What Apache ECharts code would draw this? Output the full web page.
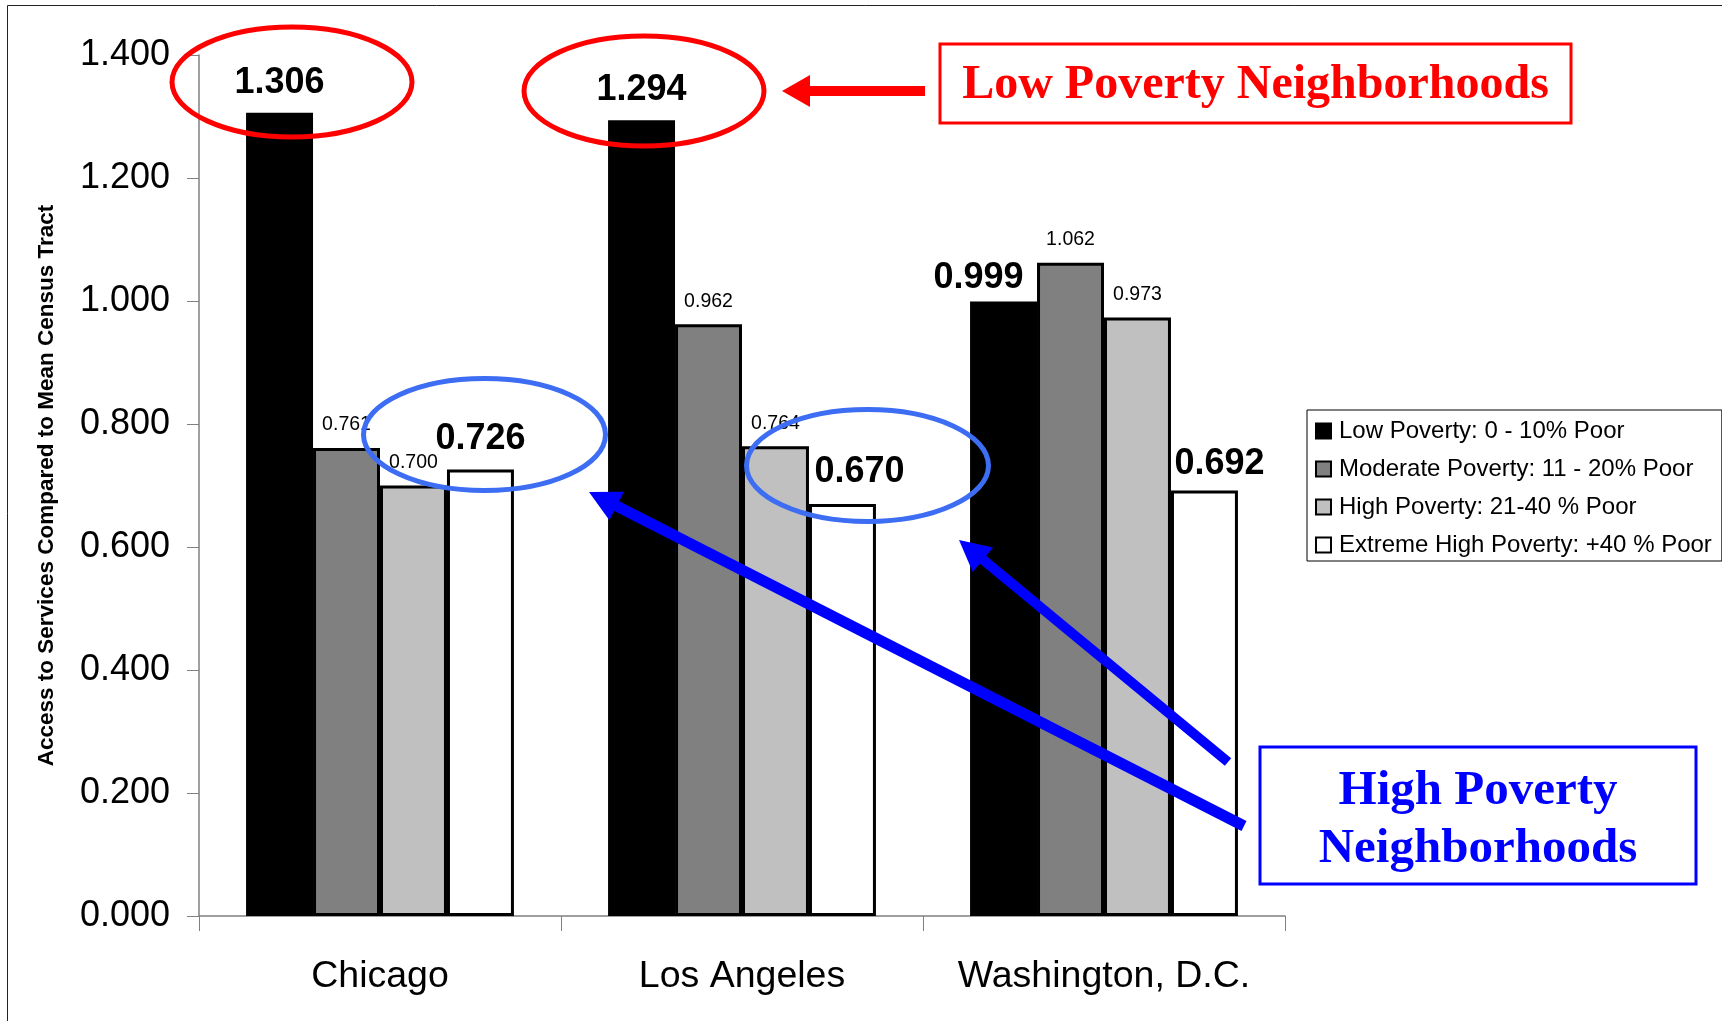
<!DOCTYPE html>
<html>
<head>
<meta charset="utf-8">
<style>
  html, body { margin: 0; padding: 0; background: #fff; }
  #chart { width: 1722px; height: 1021px; }
</style>
<script src="https://cdn.jsdelivr.net/npm/echarts@6/dist/echarts.min.js"></script>
</head>
<body>
<div id="chart"></div>
<script>
// ---- data ----
const categories = ['Chicago', 'Los Angeles', 'Washington, D.C.'];
const seriesNames = [
  'Low Poverty: 0 - 10% Poor',
  'Moderate Poverty: 11 - 20% Poor',
  'High Poverty: 21-40 % Poor',
  'Extreme High Poverty: +40 % Poor'
];
const lowPoverty      = [1.306, 1.294, 0.999];
const moderatePoverty = [0.761, 0.962, 1.062];
const highPoverty     = [0.700, 0.764, 0.973];
const extremePoverty  = [0.726, 0.670, 0.692];
const yTicks = [0, 0.2, 0.4, 0.6, 0.8, 1.0, 1.2, 1.4];
const yAxisTitle = 'Access to Services Compared to Mean Census Tract';
const lowNote = 'Low Poverty Neighborhoods';
const highNote = 'High Poverty\nNeighborhoods';

// ---- styles ----
const fills = ['#000000', '#808080', '#c0c0c0', '#ffffff'];
const bigSeries = [true, false, false, true];
// per-point label nudges [series][category] -> [dx, dy]
const labelNudge = {
  '0,2': [-25, 6],
  '3,1': [17, -2],
  '3,2': [15, 4]
};

const allValues = [lowPoverty, moderatePoverty, highPoverty, extremePoverty];

const series = allValues.map((vals, si) => ({
  name: seriesNames[si],
  type: 'bar',
  barGap: '0%',
  barCategoryGap: '26%',
  itemStyle: { color: fills[si], borderColor: '#000', borderWidth: 3 },
  label: {
    show: true,
    position: 'top',
    distance: bigSeries[si] ? 12 : 13,
    color: '#000',
    fontFamily: 'Liberation Sans, Arial, sans-serif',
    fontSize: bigSeries[si] ? 36 : 19.5,
    fontWeight: bigSeries[si] ? 'bold' : 'normal',
    formatter: p => p.value.toFixed(3)
  },
  data: vals.map((v, ci) => {
    const n = labelNudge[si + ',' + ci];
    return n ? { value: v, label: { offset: n } } : v;
  })
}));

function arrow(x1, y1, x2, y2, w, headLen, headHalf, color) {
  // from (x1,y1) to tip (x2,y2)
  const dx = x2 - x1, dy = y2 - y1;
  const L = Math.sqrt(dx * dx + dy * dy);
  const ux = dx / L, uy = dy / L;
  const bx = x2 - ux * headLen, by = y2 - uy * headLen;
  const px = -uy, py = ux;
  return [
    { type: 'line', z: 100, shape: { x1: x1, y1: y1, x2: bx + ux * 2, y2: by + uy * 2 },
      style: { stroke: color, lineWidth: w, lineCap: 'butt' } },
    { type: 'polygon', z: 100, shape: { points: [[x2, y2], [bx + px * headHalf, by + py * headHalf], [bx - px * headHalf, by - py * headHalf]] },
      style: { fill: color } }
  ];
}

const ellipse = (cx, cy, rx, ry, color) => ({
  type: 'ellipse', z: 100, shape: { cx, cy, rx, ry },
  style: { fill: null, stroke: color, lineWidth: 5 }
});

const graphics = [
  { type: 'rect', z: 90, shape: { x: 7.5, y: 5.5, width: 1730, height: 1030 },
    style: { fill: null, stroke: '#222', lineWidth: 1 } },
  ellipse(292, 82, 120, 55, '#ff0000'),
  ellipse(644, 91, 120, 55, '#ff0000'),
  ellipse(484.5, 434.5, 121, 56, '#3d6df2'),
  ellipse(867.5, 465.5, 121, 56, '#3d6df2'),
  ...arrow(925, 91, 782, 91, 10, 28, 16, '#ff0000'),
  ...arrow(1244, 826, 589, 492, 11, 31, 16, '#0000ff'),
  ...arrow(1228, 762, 959, 540, 10, 31, 16, '#0000ff'),
  { type: 'rect', z: 100, shape: { x: 940, y: 44, width: 631, height: 79 },
    style: { fill: '#fff', stroke: '#ff0000', lineWidth: 3 } },
  { type: 'text', z: 101, x: 1255.5, y: 86,
    style: { text: lowNote, fill: '#ff0000', font: 'bold 48px "Liberation Serif", "Times New Roman", serif',
      align: 'center', verticalAlign: 'middle' } },
  { type: 'rect', z: 100, shape: { x: 1260, y: 747, width: 436, height: 137 },
    style: { fill: '#fff', stroke: '#0000ff', lineWidth: 3 } },
  { type: 'text', z: 101, x: 1478, y: 820,
    style: { text: highNote, fill: '#0000ff', font: 'bold 49px "Liberation Serif", "Times New Roman", serif',
      lineHeight: 58, align: 'center', verticalAlign: 'middle' } }
];

const chart = echarts.init(document.getElementById('chart'), null, { renderer: 'canvas' });
chart.setOption({
  animation: false,
  backgroundColor: '#fff',
  grid: { left: 199, top: 55, right: 437, bottom: 105, containLabel: false },
  legend: {
    orient: 'vertical',
    left: 1307, top: 410,
    padding: [9, 10, 4, 8],
    itemGap: 14,
    itemWidth: 15, itemHeight: 15,
    icon: 'rect',
    backgroundColor: '#fff',
    borderColor: '#000', borderWidth: 1,
    textStyle: { fontFamily: 'Liberation Sans, Arial, sans-serif', fontSize: 24, color: '#000', lineHeight: 24, padding: [0, 0, 0, 3] },
    data: seriesNames
  },
  xAxis: {
    type: 'category',
    data: categories,
    axisLine: { lineStyle: { color: '#808080', width: 1.5 } },
    axisTick: { show: true, interval: 0, length: 15, lineStyle: { color: '#808080' } },
    axisLabel: { interval: 0, hideOverlap: false, color: '#000', fontFamily: 'Liberation Sans, Arial, sans-serif', fontSize: 37.5, margin: 42 }
  },
  yAxis: {
    type: 'value',
    min: yTicks[0], max: yTicks[yTicks.length - 1], interval: 0.2,
    name: yAxisTitle,
    nameLocation: 'middle',
    nameGap: 141,
    nameTextStyle: { fontFamily: 'Liberation Sans, Arial, sans-serif', fontWeight: 'bold', fontSize: 22.5, color: '#000' },
    axisLine: { show: true, lineStyle: { color: '#808080', width: 1.5 } },
    axisTick: { show: true, length: 12, lineStyle: { color: '#808080' } },
    splitLine: { show: false },
    axisLabel: { color: '#000', fontFamily: 'Liberation Sans, Arial, sans-serif', fontSize: 36, margin: 29,
      formatter: v => v.toFixed(3) }
  },
  series: series,
  graphic: graphics
});
</script>
</body>
</html>
